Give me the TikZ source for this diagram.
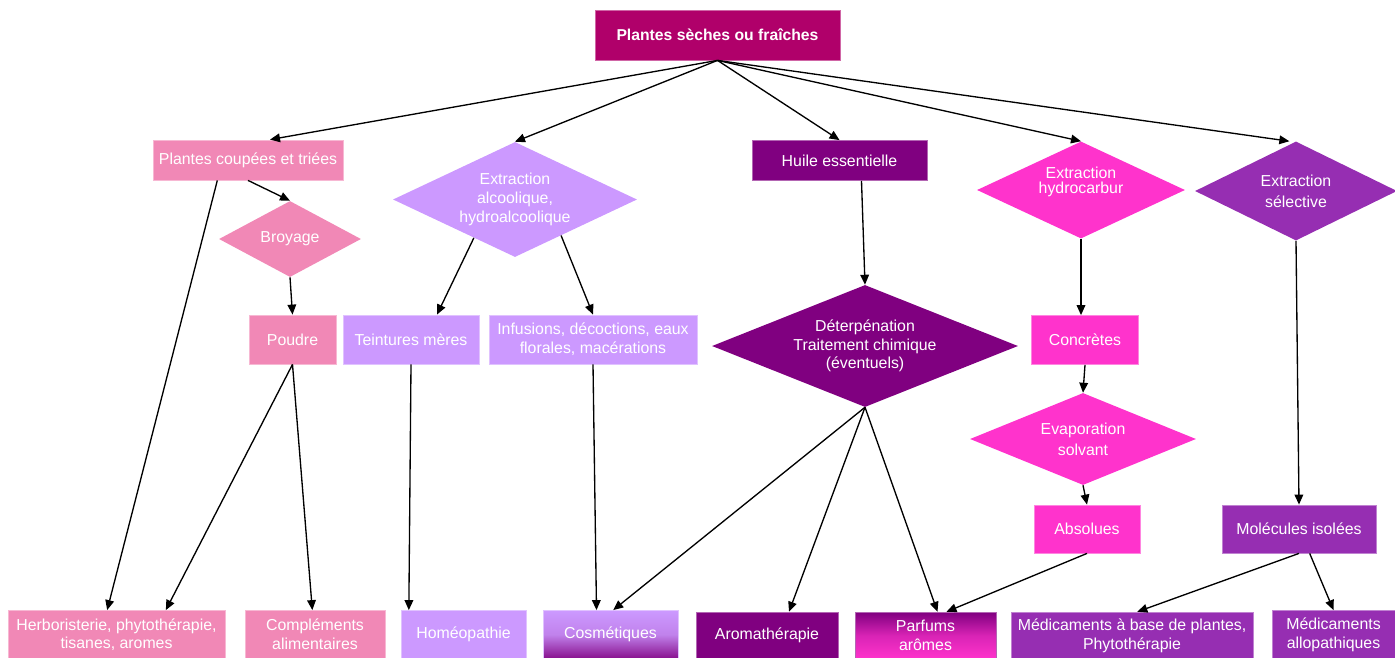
\documentclass[tikz,border=0pt]{standalone}
\usepackage{fontspec}
\setmainfont{Liberation Sans}
\usetikzlibrary{arrows.meta,shapes.geometric}
\definecolor{TopClr}{RGB}{176,0,106}
\definecolor{PinkClr}{RGB}{241,136,182}
\definecolor{LavClr}{RGB}{204,153,255}
\definecolor{PlumClr}{RGB}{128,0,128}
\definecolor{MagClr}{RGB}{255,51,204}
\definecolor{PurClr}{RGB}{150,46,178}

\begin{document}
\begin{tikzpicture}[x=0.75pt,y=-0.75pt,
  box/.style={rectangle,draw=#1!60!white,line width=0.6pt,fill=#1,text=white,
    inner sep=1pt,align=center,font=\fontsize{11.9}{14}\selectfont},
  dia/.style={diamond,fill=#1,text=white,inner sep=0pt,align=center,
    font=\fontsize{11.9}{14}\selectfont},
  arr/.style={line width=1pt,-{Triangle[length=7.5pt,width=6.5pt]}}]
\useasboundingbox (0,0) rectangle (1395,657);

\node[box=TopClr,minimum width=183.75pt,minimum height=37.5pt,font=\bfseries\fontsize{11.8}{14}\selectfont] (top) at (717.5,35) {Plantes sèches ou fraîches};

\node[box=PinkClr,minimum width=142.5pt,minimum height=30pt] (cp) at (248,160) {Plantes coupées et triées};
\node[dia=PinkClr,minimum width=106.5pt,minimum height=57pt,shape aspect=1.9] (broy) at (290,239) {Broyage};
\node[box=PinkClr,minimum width=65.25pt,minimum height=36.75pt] (poudre) at (292.5,339.5) {Poudre};

\node[dia=LavClr,minimum width=183pt,minimum height=86.25pt,shape aspect=2.1] (alc) at (515,199.5) {Extraction\\alcoolique,\\hydroalcoolique};
\node[box=LavClr,minimum width=102pt,minimum height=36.75pt] (teint) at (411,339.5) {Teintures mères};
\node[box=LavClr,minimum width=156pt,minimum height=36.75pt] (inf) at (593,339.5) {Infusions, décoctions, eaux\\florales, macérations};

\node[box=PlumClr,minimum width=131.25pt,minimum height=30pt] (huile) at (839.5,160.5) {Huile essentielle};
\node[dia=PlumClr,minimum width=229.5pt,minimum height=91.5pt,shape aspect=2.5] (det) at (865,346) {Déterpénation\\Traitement chimique\\(éventuels)};

\node[dia=MagClr,minimum width=156pt,minimum height=72.75pt,shape aspect=2.15,font=\fontsize{11.9}{11.5}\selectfont] (hyd) at (1081,190) {Extraction\\hydrocarbur\\[3pt]};
\node[box=MagClr,minimum width=80.25pt,minimum height=36.75pt] (conc) at (1085,340) {Concrètes};
\node[dia=MagClr,minimum width=169.5pt,minimum height=69pt,shape aspect=2.45,font=\fontsize{11.9}{15.75}\selectfont] (evap) at (1083,439) {Evaporation\\solvant};
\node[box=MagClr,minimum width=79.5pt,minimum height=36pt] (abs) at (1087,529) {Absolues};

\node[dia=PurClr,minimum width=151.5pt,minimum height=74.25pt,shape aspect=2,font=\fontsize{11.9}{15.75}\selectfont] (sel) at (1296,191) {Extraction\\sélective};
\node[box=PurClr,minimum width=115.5pt,minimum height=36pt] (mol) at (1299,529) {Molécules isolées};

\node[box=PinkClr,minimum width=162.75pt,minimum height=36pt] (herb) at (116.5,634.5) {Herboristerie, phytothérapie,\\tisanes, aromes};
\node[box=PinkClr,minimum width=105pt,minimum height=36pt] (comp) at (315,634.5) {Compléments\\alimentaires};
\node[box=LavClr,minimum width=93.75pt,minimum height=36pt] (homeo) at (463.5,634.5) {Homéopathie};
\node[box=LavClr,top color=LavClr,bottom color=PlumClr!90!LavClr,middle color=LavClr!85!PlumClr,minimum width=101.25pt,minimum height=36pt] (cosm) at (610.5,634.5) {Cosmétiques};
\node[box=PlumClr,minimum width=106.5pt,minimum height=35pt] (arom) at (767,635.5) {Aromathérapie};
\node[box=PlumClr,top color=PlumClr,bottom color=MagClr,middle color=MagClr!70!PlumClr,minimum width=105.75pt,minimum height=35pt] (parf) at (925.5,635.5) {Parfums\\arômes};
\node[box=PurClr,minimum width=181.5pt,minimum height=35pt] (medb) at (1132,635.5) {Médicaments à base de plantes,\\Phytothérapie};
\node[box=PurClr,minimum width=92.25pt,minimum height=36pt] (allo) at (1333.5,634.5) {Médicaments\\allopathiques};

\draw[arr] (top.south) -- ([xshift=16.5pt]cp.north);
\draw[arr] (top.south) -- (alc.north);
\draw[arr] (top.south) -- (huile.north);
\draw[arr] (top.south) -- (hyd.north);
\draw[arr] (top.south) -- ([xshift=-5pt]sel.north);

\draw[arr] (cp.south) -- (broy.north);
\draw[arr] ([xshift=-23pt]cp.south) -- ([xshift=-7pt]herb.north);
\draw[arr] (broy.south) -- (poudre.north);
\draw[arr] (poudre.south) -- ([xshift=37pt]herb.north);
\draw[arr] (poudre.south) -- ([xshift=-2pt]comp.north);

\draw[arr] (alc.223) -- ([xshift=19.5pt]teint.north);
\draw[arr] (alc.322) -- (inf.north);
\draw[arr] (teint.south) -- ([xshift=-41pt]homeo.north);
\draw[arr] (inf.south) -- ([xshift=-10.5pt]cosm.north);

\draw[arr] ([xshift=16.5pt]huile.south) -- (det.north);
\draw[arr] (det.south) -- ([xshift=2pt]cosm.north);
\draw[arr] (det.south) -- ([xshift=16.5pt]arom.north);
\draw[arr] (det.south) -- ([xshift=9pt]parf.north);

\draw[arr] (hyd.south) -- ([xshift=-3pt]conc.north);
\draw[arr] (conc.south) -- (evap.north);
\draw[arr] (evap.south) -- (abs.north);
\draw[arr] (abs.south) -- ([xshift=15.75pt]parf.north);

\draw[arr] (sel.south) -- (mol.north);
\draw[arr] (mol.south) -- ([xshift=4pt]medb.north);
\draw[arr] ([xshift=8pt]mol.south) -- (allo.north);

\end{tikzpicture}
\end{document}
